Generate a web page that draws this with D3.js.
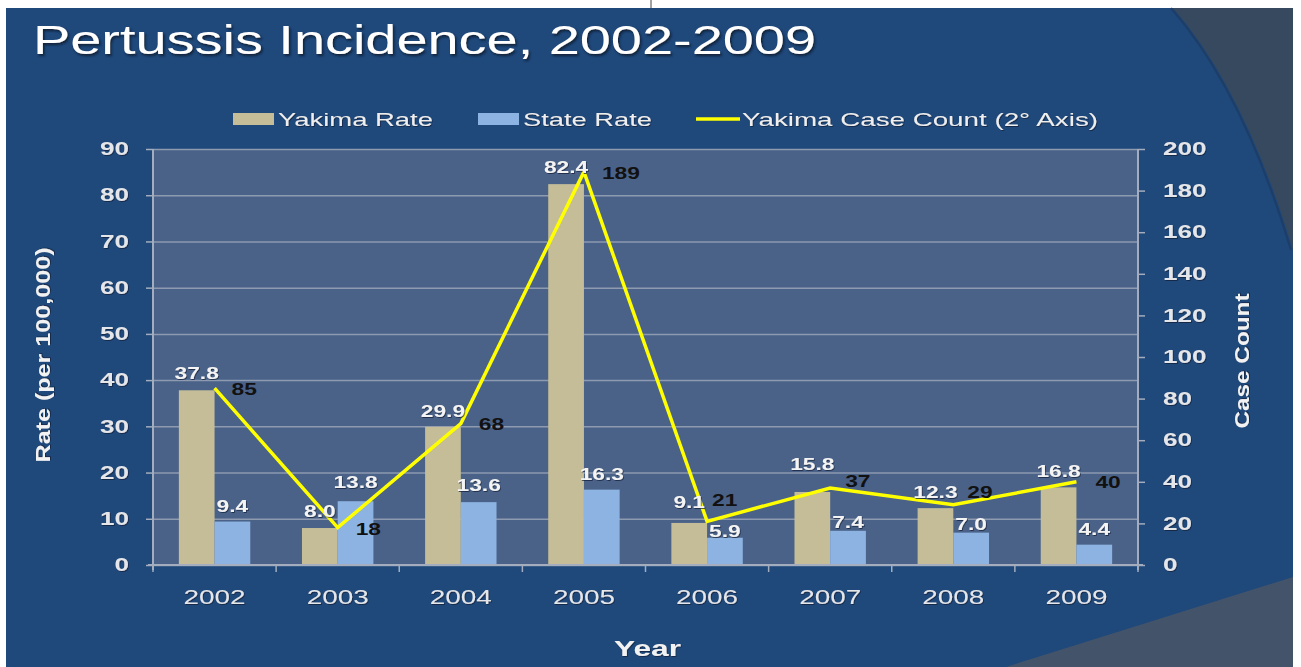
<!DOCTYPE html>
<html>
<head>
<meta charset="utf-8">
<script src="https://cdn.jsdelivr.net/npm/d3@7"></script>
<style>
  body { margin: 0; background: #fff; }
  svg { display: block; }
  text { font-family: "Liberation Sans", Arial, sans-serif; }
</style>
</head>
<body>
<div id="chart"></div>
<script>
// chart values
var years = ["2002", "2003", "2004", "2005", "2006", "2007", "2008", "2009"];
var yakimaRate = [37.8, 8.0, 29.9, 82.4, 9.1, 15.8, 12.3, 16.8];
var stateRate = [9.4, 13.8, 13.6, 16.3, 5.9, 7.4, 7.0, 4.4];
var caseCount = [85, 18, 68, 189, 21, 37, 29, 40];
var rateTicks = [0, 10, 20, 30, 40, 50, 60, 70, 80, 90];
var countTicks = [0, 20, 40, 60, 80, 100, 120, 140, 160, 180, 200];

// hand-nudged label offsets (px), as in the original slide
var yakimaLabelDy = [-11, -11, -10, -11, -15, -22, -10, -10];
var stateLabelDy = [-10, -13, -11, -10, -1, -3, -3, -10];
var countLabelDx = [17, 18, 18, 18, 5, 15, 14, 19];
var countLabelDy = [1, 1, 0, 1, -21, -7, -13, 0];

var width = 1301, height = 667;
var plot = {left: 153, right: 1138, top: 149, bottom: 565};

var svg = d3.select("#chart").append("svg")
    .attr("width", width)
    .attr("height", height);

var defs = svg.append("defs");
var shadow = defs.append("filter").attr("id", "shadow")
    .attr("x", "-10%").attr("y", "-30%").attr("width", "130%").attr("height", "160%");
shadow.append("feDropShadow").attr("dx", 1.5).attr("dy", 2)
    .attr("stdDeviation", 1.2).attr("flood-color", "#0b1a30").attr("flood-opacity", 0.9);
var soft = defs.append("filter").attr("id", "soft")
    .attr("x", "-10%").attr("y", "-30%").attr("width", "130%").attr("height", "160%");
soft.append("feDropShadow").attr("dx", 0.8).attr("dy", 1)
    .attr("stdDeviation", 0.6).attr("flood-color", "#101c30").attr("flood-opacity", 0.7);

// stretch text horizontally (the slide was scaled wider than tall)
function stretch(sel, k) {
  sel.each(function() {
    var w = this.getComputedTextLength();
    d3.select(this).attr("textLength", w * k).attr("lengthAdjust", "spacingAndGlyphs");
  });
}
function fit(sel, w) {
  sel.attr("textLength", w).attr("lengthAdjust", "spacingAndGlyphs");
}

// slide background
svg.append("rect").attr("x", 6).attr("y", 8).attr("width", 1287).attr("height", height - 8)
    .attr("fill", "#1f487b");
svg.append("line").attr("x1", 651).attr("x2", 651).attr("y1", 0).attr("y2", 8)
    .attr("stroke", "#444").attr("stroke-width", 1);

// decorative corners
svg.append("path")
    .attr("d", "M1173,8 Q1245,90 1293,250 L1293,8 Z")
    .attr("fill", "#36495f");
svg.append("path")
    .attr("d", "M1171,8 Q1243,90 1291,250")
    .attr("fill", "none").attr("stroke", "#1a3455").attr("stroke-width", 2).attr("opacity", 0.5);
svg.append("path")
    .attr("d", "M1006,667 L1293,577 L1293,667 Z")
    .attr("fill", "#43546a");

// title
svg.append("text")
    .attr("x", 33).attr("y", 54)
    .attr("font-size", 41)
    .attr("fill", "#ffffff")
    .attr("filter", "url(#shadow)")
    .text("Pertussis Incidence, 2002-2009")
    .call(fit, 783);

// scales
var x0 = d3.scaleBand().domain(years)
    .range([plot.left, plot.right])
    .paddingInner(0.42).paddingOuter(0.21);
var x1 = d3.scaleBand().domain(["yakima", "state"])
    .range([0, x0.bandwidth()]);
var yL = d3.scaleLinear().domain([0, 90]).range([plot.bottom, plot.top]);
var yR = d3.scaleLinear().domain([0, 200]).range([plot.bottom, plot.top]);

// plot area
svg.append("rect")
    .attr("x", plot.left).attr("y", plot.top)
    .attr("width", plot.right - plot.left).attr("height", plot.bottom - plot.top)
    .attr("fill", "#4a6288");

var grid = svg.append("g")
    .attr("transform", "translate(" + plot.left + ",0)")
    .call(d3.axisLeft(yL).tickValues(rateTicks).tickSize(-(plot.right - plot.left)).tickFormat(""));
grid.select(".domain").remove();
grid.selectAll("line").attr("stroke", "#8d9ab0").attr("stroke-width", 1.5);

// bars
var rows = years.map(function(y, i) {
  return {year: y, i: i, yakima: yakimaRate[i], state: stateRate[i], count: caseCount[i]};
});
var barColor = {yakima: "#c4bd97", state: "#8db3e2"};

var groups = svg.append("g").selectAll("g")
    .data(rows)
    .enter().append("g")
    .attr("transform", function(d) { return "translate(" + x0(d.year) + ",0)"; });

groups.selectAll("rect")
    .data(function(d) { return ["yakima", "state"].map(function(k) { return {key: k, value: d[k]}; }); })
    .enter().append("rect")
    .attr("x", function(d) { return x1(d.key); })
    .attr("y", function(d) { return yL(d.value); })
    .attr("width", x1.bandwidth())
    .attr("height", function(d) { return plot.bottom - yL(d.value); })
    .attr("fill", function(d) { return barColor[d.key]; });

// axes
var axisColor = "#a3adbd";
var tickColor = "#e4e6ea";

var leftAxis = svg.append("g")
    .attr("transform", "translate(" + plot.left + ",0)")
    .call(d3.axisLeft(yL).tickValues(rateTicks).tickSize(7).tickPadding(17).tickFormat(d3.format("d")));
var rightAxis = svg.append("g")
    .attr("transform", "translate(" + plot.right + ",0)")
    .call(d3.axisRight(yR).tickValues(countTicks).tickSize(7).tickPadding(18).tickFormat(d3.format("d")));
[leftAxis, rightAxis].forEach(function(a) {
  a.select(".domain").attr("stroke", axisColor).attr("stroke-width", 2)
      .attr("d", "M0," + plot.top + "V" + (plot.bottom + 5));
  a.selectAll(".tick line").attr("stroke", axisColor).attr("stroke-width", 1.5);
  a.selectAll(".tick text")
      .attr("font-size", 18).attr("font-weight", "bold")
      .attr("fill", tickColor).attr("font-family", null)
      .attr("filter", "url(#soft)")
      .call(stretch, 1.45);
});

// x axis: labels at band centres, ticks at band edges
var bottomAxis = svg.append("g")
    .attr("transform", "translate(0," + plot.bottom + ")")
    .call(d3.axisBottom(x0).tickSize(0).tickPadding(25));
bottomAxis.select(".domain").attr("stroke", axisColor).attr("stroke-width", 2)
    .attr("d", "M" + (plot.left - 5) + ",0H" + (plot.right + 5));
bottomAxis.selectAll(".tick text")
    .attr("font-size", 20).attr("fill", tickColor).attr("font-family", null)
    .attr("filter", "url(#soft)")
    .call(fit, 62);

var step = x0.step();
var edges = years.map(function(y) { return x0(y) - step * x0.paddingInner() / 2; })
    .concat([plot.right]);
bottomAxis.selectAll(".edge")
    .data(edges)
    .enter().append("line")
    .attr("class", "edge")
    .attr("x1", function(d) { return d; }).attr("x2", function(d) { return d; })
    .attr("y1", 0).attr("y2", 7)
    .attr("stroke", axisColor).attr("stroke-width", 1.5);

// case count line
var line = d3.line()
    .x(function(d) { return x0(d.year) + x0.bandwidth() / 2; })
    .y(function(d) { return yR(d.count); });
svg.append("path")
    .datum(rows)
    .attr("d", line)
    .attr("fill", "none")
    .attr("stroke", "#ffff00")
    .attr("stroke-width", 3.5)
    .attr("stroke-linejoin", "miter");

// data labels
var fmt = d3.format(".1f");
var labels = svg.append("g");
labels.selectAll(".ylab")
    .data(rows).enter().append("text")
    .attr("x", function(d) { return x0(d.year) + x1("yakima") + x1.bandwidth() / 2; })
    .attr("y", function(d) { return yL(d.yakima) + yakimaLabelDy[d.i]; })
    .attr("text-anchor", "middle")
    .attr("font-size", 16).attr("font-weight", "bold")
    .attr("fill", "#f4f4f4").attr("filter", "url(#soft)")
    .text(function(d) { return fmt(d.yakima); })
    .call(stretch, 1.42);
labels.selectAll(".slab")
    .data(rows).enter().append("text")
    .attr("x", function(d) { return x0(d.year) + x1("state") + x1.bandwidth() / 2; })
    .attr("y", function(d) { return yL(d.state) + stateLabelDy[d.i]; })
    .attr("text-anchor", "middle")
    .attr("font-size", 16).attr("font-weight", "bold")
    .attr("fill", "#f4f4f4").attr("filter", "url(#soft)")
    .text(function(d) { return fmt(d.state); })
    .call(stretch, 1.42);
labels.selectAll(".clab")
    .data(rows).enter().append("text")
    .attr("x", function(d) { return x0(d.year) + x0.bandwidth() / 2 + countLabelDx[d.i]; })
    .attr("y", function(d) { return yR(d.count) + 6 + countLabelDy[d.i]; })
    .attr("font-size", 16).attr("font-weight", "bold")
    .attr("fill", "#111111")
    .text(function(d) { return d.count; })
    .call(stretch, 1.42);

// axis titles
svg.append("text")
    .attr("transform", "translate(50,355) rotate(-90)")
    .attr("text-anchor", "middle")
    .attr("font-size", 20).attr("font-weight", "bold")
    .attr("fill", "#f2f2f2").attr("filter", "url(#soft)")
    .text("Rate (per 100,000)")
    .call(fit, 215);
svg.append("text")
    .attr("transform", "translate(1249,361) rotate(-90)")
    .attr("text-anchor", "middle")
    .attr("font-size", 20).attr("font-weight", "bold")
    .attr("fill", "#f2f2f2").attr("filter", "url(#soft)")
    .text("Case Count")
    .call(fit, 135);
svg.append("text")
    .attr("x", (plot.left + plot.right) / 2 + 2).attr("y", 656)
    .attr("text-anchor", "middle")
    .attr("font-size", 22).attr("font-weight", "bold")
    .attr("fill", "#f2f2f2").attr("filter", "url(#soft)")
    .text("Year")
    .call(fit, 67);

// legend
var legend = svg.append("g");
var legendItems = [
  {name: "Yakima Rate", type: "bar", color: barColor.yakima, x: 233, w: 155},
  {name: "State Rate", type: "bar", color: barColor.state, x: 478, w: 129},
  {name: "Yakima Case Count (2\u00b0 Axis)", type: "line", color: "#ffff00", x: 696, w: 356}
];
legendItems.forEach(function(it) {
  if (it.type === "bar") {
    legend.append("rect").attr("x", it.x).attr("y", 113).attr("width", 41).attr("height", 12)
        .attr("fill", it.color);
  } else {
    legend.append("line").attr("x1", it.x).attr("x2", it.x + 44).attr("y1", 119).attr("y2", 119)
        .attr("stroke", it.color).attr("stroke-width", 3.5);
  }
  legend.append("text")
      .attr("x", it.x + (it.type === "bar" ? 45 : 46)).attr("y", 126)
      .attr("font-size", 19).attr("fill", "#eeeeee").attr("filter", "url(#soft)")
      .text(it.name)
      .call(fit, it.w);
});
</script>
</body>
</html>
